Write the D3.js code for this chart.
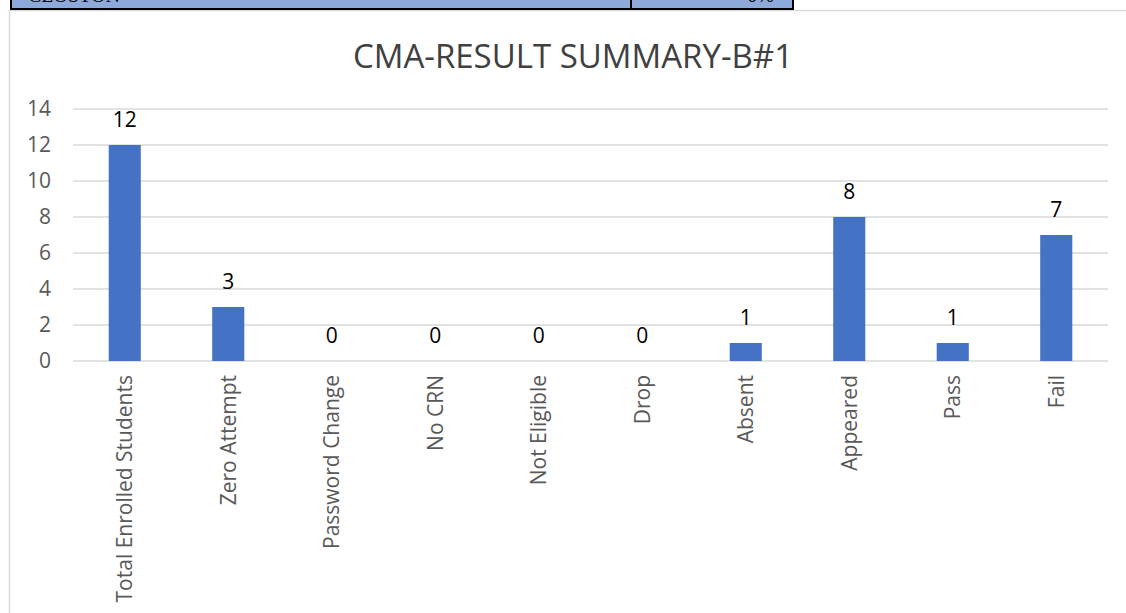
<!DOCTYPE html>
<html>
<head>
<meta charset="utf-8">
<script src="https://cdn.jsdelivr.net/npm/d3@7"></script>
<style>
  body { margin: 0; background: #fff; }
  svg { display: block; }
</style>
</head>
<body>
<div id="chart"></div>
<script>
const categories = ["Total Enrolled Students", "Zero Attempt", "Password Change", "No CRN",
  "Not Eligible", "Drop", "Absent", "Appeared", "Pass", "Fail"];
const values = [12, 3, 0, 0, 0, 0, 1, 8, 1, 7];
const yTicks = [0, 2, 4, 6, 8, 10, 12, 14];
const title = "CMA-RESULT SUMMARY-B#1";

const WIDTH = 1126, HEIGHT = 613;
const PLOT = { LEFT: 73, RIGHT: 1108, TOP: 109, BOTTOM: 361 };
const FONT = "'Open Sans', sans-serif";

const svg = d3.select("#chart").append("svg")
  .attr("width", WIDTH)
  .attr("height", HEIGHT);

// chart frame
svg.append("rect")
  .attr("x", 9.5).attr("y", 10.5)
  .attr("width", 1200).attr("height", 700)
  .attr("fill", "#fff")
  .attr("stroke", "#d9d9d9")
  .attr("stroke-width", 1.5);

// bit of the table above that got cut off
const table = svg.append("g");
table.append("rect")
  .attr("x", 11).attr("y", -20)
  .attr("width", 782).attr("height", 29)
  .attr("fill", "#8eaadb")
  .attr("stroke", "#000")
  .attr("stroke-width", 2);
table.append("line")
  .attr("x1", 631).attr("x2", 631)
  .attr("y1", -20).attr("y2", 9)
  .attr("stroke", "#000").attr("stroke-width", 2);
table.append("text")
  .attr("x", 28).attr("y", 2)
  .style("font-family", "'Liberation Serif', serif")
  .style("font-size", "20px")
  .attr("fill", "#000")
  .text("CLOSTON");
table.append("text")
  .attr("x", 774).attr("y", 2)
  .attr("text-anchor", "end")
  .style("font-family", "'Liberation Serif', serif")
  .style("font-size", "20px")
  .attr("fill", "#000")
  .text("0%");

// scales
const x = d3.scaleBand()
  .domain(categories)
  .range([PLOT.LEFT, PLOT.RIGHT])
  .paddingInner(0.69)
  .paddingOuter(0.345);

const y = d3.scaleLinear()
  .domain([0, 14])
  .range([PLOT.BOTTOM, PLOT.TOP]);

// gridlines
svg.append("g")
  .selectAll("line")
  .data(yTicks)
  .enter().append("line")
  .attr("x1", PLOT.LEFT).attr("x2", PLOT.RIGHT)
  .attr("y1", d => y(d)).attr("y2", d => y(d))
  .attr("stroke", "#d9d9d9")
  .attr("stroke-width", 1.3);

// y axis labels
const yAxis = svg.append("g")
  .attr("transform", `translate(${PLOT.LEFT},0)`)
  .call(d3.axisLeft(y).tickValues(yTicks).tickSize(0).tickPadding(22));
yAxis.select(".domain").remove();
yAxis.selectAll("text")
  .style("font-family", FONT)
  .style("font-size", "21px")
  .attr("fill", "#595959");

// x axis labels
const xAxis = svg.append("g")
  .attr("transform", `translate(0,${PLOT.BOTTOM})`)
  .call(d3.axisBottom(x).tickSize(0));
xAxis.select(".domain").remove();
xAxis.selectAll("text")
  .style("font-family", FONT)
  .style("font-size", "21px")
  .attr("fill", "#595959")
  .attr("text-anchor", "end")
  .attr("transform", "rotate(-90)")
  .attr("x", -14)
  .attr("y", 0)
  .attr("dy", "0.35em");

// bars
svg.append("g")
  .selectAll("rect")
  .data(values)
  .enter().append("rect")
  .attr("x", (d, i) => x(categories[i]))
  .attr("width", x.bandwidth())
  .attr("y", d => y(d))
  .attr("height", d => y(0) - y(d))
  .attr("fill", "#4472c4");

// data labels
svg.append("g")
  .selectAll("text")
  .data(values)
  .enter().append("text")
  .attr("x", (d, i) => x(categories[i]) + x.bandwidth() / 2)
  .attr("y", d => y(d) - 18)
  .attr("text-anchor", "middle")
  .style("font-family", FONT)
  .style("font-size", "21px")
  .attr("fill", "#000")
  .text(d => d);

// title
svg.append("text")
  .attr("x", 573)
  .attr("y", 68)
  .attr("text-anchor", "middle")
  .style("font-family", FONT)
  .style("font-size", "33px")
  .attr("fill", "#404040")
  .text(title);
</script>
</body>
</html>
